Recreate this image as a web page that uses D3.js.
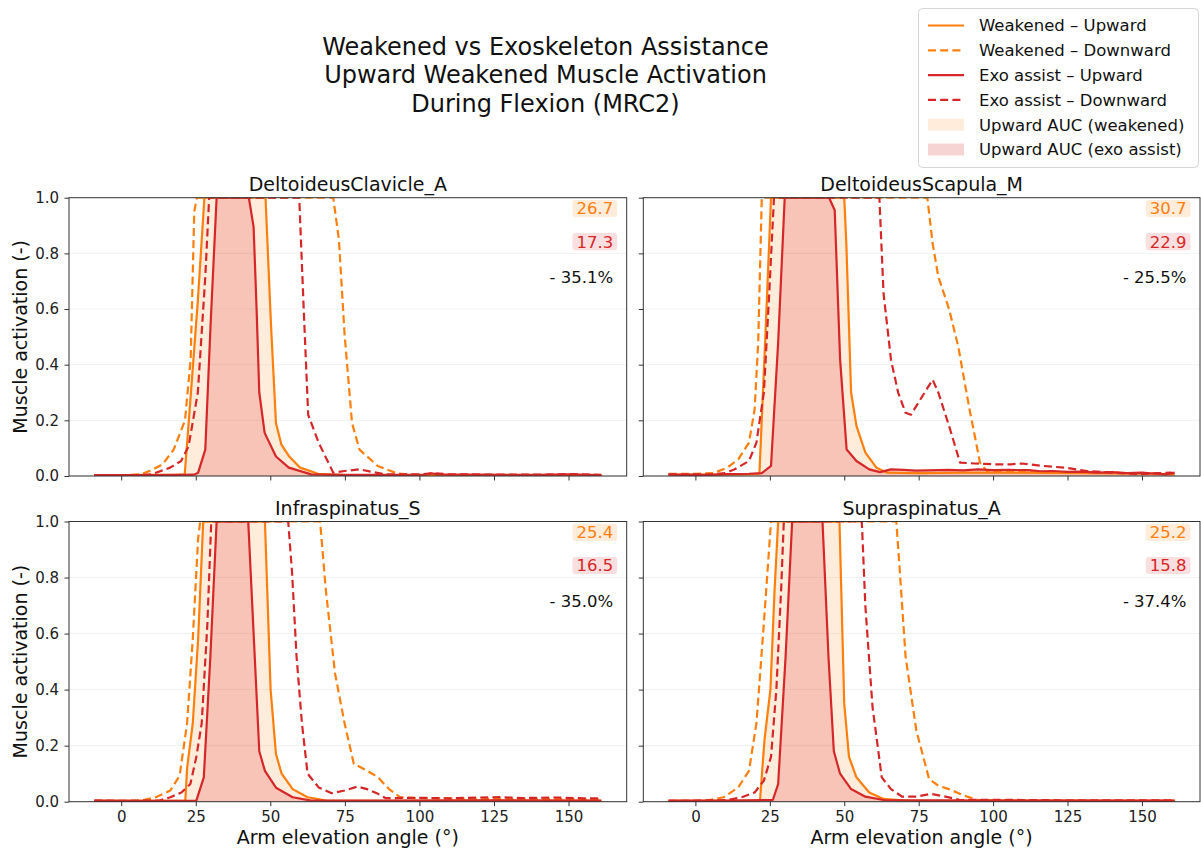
<!DOCTYPE html>
<html>
<head>
<meta charset="utf-8">
<script src="https://cdn.jsdelivr.net/npm/d3@7/dist/d3.min.js"></script>
<style>
  html, body { margin: 0; padding: 0; background: #fff; }
  svg { display: block; font-family: "DejaVu Sans", sans-serif; }
</style>
</head>
<body>
<svg id="chart" width="1201" height="850"></svg>
<script>
// ---- Data: activation vs. arm elevation angle, per muscle ----
const muscles = ["DeltoideusClavicle_A", "DeltoideusScapula_M", "Infraspinatus_S", "Supraspinatus_A"];
const aucWeakened = [26.7, 30.7, 25.4, 25.2];
const aucExo = [17.3, 22.9, 16.5, 15.8];
const aucChange = [-35.1, -25.5, -35.0, -37.4];
const xTicks = [0, 25, 50, 75, 100, 125, 150];
const yTicks = [0.0, 0.2, 0.4, 0.6, 0.8, 1.0];
const titleLines = ["Weakened vs Exoskeleton Assistance", "Upward Weakened Muscle Activation", "During Flexion (MRC2)"];
const legendLabels = ["Weakened – Upward", "Weakened – Downward", "Exo assist – Upward", "Exo assist – Downward",
                      "Upward AUC (weakened)", "Upward AUC (exo assist)"];

// DeltoideusClavicle_A
const dcWeakUp = [[-9,0.003],[0,0.003],[10,0.004],[18,0.004],[21.3,0.006],[22.9,0.23],[25.7,0.63],[27.9,1],[48.4,1],[50.2,0.55],[51.9,0.19],[53.7,0.113],[56.2,0.072],[60,0.03],[66,0.008],[75,0.003],[100,0.003],[130,0.003],[161,0.002]];
const dcWeakDown = [[-9,0.002],[0,0.002],[6.5,0.006],[10,0.02],[13.9,0.042],[17.6,0.095],[21.4,0.2],[23.3,0.42],[24.5,0.95],[25.4,1],[71.1,1],[73,0.85],[74.9,0.51],[77.4,0.19],[79.9,0.095],[86,0.036],[92.3,0.01],[98.5,0.003],[120,0.003],[161,0.002]];
const dcExoUp = [[-9,0.003],[10,0.003],[20,0.004],[24.5,0.005],[25.8,0.012],[28.2,0.095],[30,0.55],[32,1],[42.8,1],[44.4,0.895],[45.4,0.6],[46.3,0.3],[48.1,0.155],[51.9,0.07],[56.2,0.03],[63.7,0.006],[75,0.004],[90,0.004],[102,0.005],[104,0.01],[106,0.006],[120,0.005],[140,0.004],[150,0.006],[161,0.003]];
const dcExoDown = [[-9,0.002],[5,0.002],[10.2,0.006],[16.4,0.03],[20.1,0.054],[22.6,0.107],[25.7,0.3],[28.2,0.716],[29.5,1],[59.7,1],[61.2,0.6],[62.7,0.22],[66.2,0.12],[71.1,0.012],[74.9,0.018],[79.9,0.024],[83.6,0.016],[88.6,0.006],[100,0.006],[104.7,0.01],[110,0.006],[125,0.005],[140,0.005],[152,0.007],[161,0.004]];

// DeltoideusScapula_M
const dsWeakUp = [[-9,0.005],[5,0.005],[15,0.006],[21.5,0.008],[23.5,0.5],[25.4,1],[50,1],[50.7,0.835],[52.3,0.3],[54.1,0.18],[57.1,0.084],[60.8,0.03],[64.5,0.012],[75,0.01],[90,0.012],[110,0.012],[130,0.01],[150,0.008],[161,0.006]];
const dsWeakDown = [[-9,0.008],[0,0.008],[5.9,0.01],[10.7,0.03],[14.4,0.06],[18,0.12],[19.9,0.24],[21.1,0.48],[22.3,1],[77.9,1],[79.7,0.835],[81.6,0.716],[85.2,0.6],[88.3,0.465],[91.9,0.25],[95.6,0.048],[98,0.016],[110,0.014],[130,0.012],[150,0.01],[161,0.008]];
const dsExoUp = [[-9,0.006],[-5,0.004],[0,0.005],[4,0.003],[10,0.007],[18,0.008],[22.3,0.01],[25.4,0.036],[27.8,0.48],[30,1],[44.9,1],[46.8,0.955],[48.6,0.42],[50.8,0.095],[54.1,0.054],[58.4,0.024],[62,0.014],[65.7,0.024],[70,0.022],[74,0.019],[78,0.02],[85,0.022],[90,0.02],[95,0.024],[100,0.021],[105,0.022],[112,0.021],[116,0.017],[120,0.018],[125,0.015],[130,0.016],[135,0.012],[140,0.014],[145,0.01],[150,0.012],[155,0.008],[158,0.006],[161,0.012]];
const dsExoDown = [[-9,0.006],[5,0.006],[10,0.01],[13.2,0.024],[18,0.054],[20.5,0.12],[23,0.3],[24.8,0.656],[26.4,1],[61.8,1],[63.2,0.656],[65.7,0.418],[68.1,0.3],[70.6,0.227],[72.4,0.22],[75.5,0.274],[79.7,0.346],[81.6,0.3],[85.2,0.18],[88.9,0.048],[93.8,0.045],[100,0.042],[106,0.042],[109.5,0.045],[117,0.036],[124,0.03],[131.6,0.018],[140,0.012],[148.7,0.006],[155,0.01],[159.7,0.012],[161,0.008]];

// Infraspinatus_S
const isWeakUp = [[-9,0.003],[10,0.003],[21.5,0.004],[22.1,0.12],[24,0.28],[25.8,0.58],[27.5,1],[48.2,1],[50.1,0.4],[51.9,0.17],[53.8,0.1],[57.5,0.045],[62.5,0.016],[68.7,0.004],[90,0.003],[120,0.004],[161,0.003]];
const isWeakDown = [[-9,0.002],[0,0.002],[6.6,0.004],[11.6,0.016],[16.5,0.04],[19.6,0.093],[22.1,0.28],[24,0.58],[25.8,0.94],[26.5,1],[66.7,1],[68.6,0.757],[71.7,0.458],[74.9,0.28],[78,0.135],[82.4,0.111],[86.1,0.087],[89.8,0.045],[93.5,0.016],[98.5,0.013],[120,0.01],[140,0.01],[161,0.008]];
const isExoUp = [[-9,0.004],[10,0.003],[25.2,0.004],[27.7,0.087],[29.9,0.518],[32,1],[42.6,1],[44.5,0.58],[46.3,0.18],[48.2,0.11],[51.9,0.05],[57.5,0.016],[63.7,0.004],[90,0.004],[120,0.005],[161,0.004]];
const isExoDown = [[-9,0.004],[0,0.003],[12.8,0.004],[16.5,0.016],[20.2,0.033],[23.2,0.063],[25.2,0.16],[27,0.28],[28.9,0.634],[30.2,1],[56,1],[57.3,0.817],[58.8,0.518],[60.6,0.28],[62.5,0.1],[66.2,0.051],[70.6,0.03],[74.9,0.04],[79.3,0.054],[82.4,0.045],[86.1,0.028],[88.6,0.013],[91,0.013],[100,0.014],[110,0.012],[120,0.015],[127,0.016],[135,0.013],[145,0.015],[155,0.012],[161,0.012]];

// Supraspinatus_A
const saWeakUp = [[-9,0.003],[10,0.003],[21.7,0.004],[23.2,0.22],[25.2,0.4],[26.6,0.757],[27.8,1],[48.4,1],[50,0.35],[51.6,0.16],[54.1,0.087],[58.4,0.033],[63.2,0.01],[70.6,0.004],[100,0.003],[161,0.003]];
const saWeakDown = [[-9,0.002],[0,0.003],[4.6,0.006],[9.5,0.016],[14.4,0.051],[18,0.11],[20.5,0.28],[23,0.637],[25.4,1],[67.5,1],[68.7,0.817],[70.6,0.518],[74.2,0.255],[78.5,0.081],[81.6,0.057],[85.2,0.045],[90.1,0.022],[95,0.006],[110,0.004],[161,0.003]];
const saExoUp = [[-9,0.004],[10,0.004],[26,0.006],[27.8,0.063],[30.3,0.518],[32.5,1],[42.7,1],[44.7,0.518],[46.5,0.18],[48.6,0.1],[52.3,0.045],[57.1,0.018],[63.2,0.006],[100,0.004],[161,0.004]];
const saExoDown = [[-9,0.003],[0,0.003],[10.7,0.006],[15.6,0.016],[19.9,0.033],[23,0.075],[25.4,0.16],[27.2,0.4],[28.8,0.757],[29.7,1],[55.9,1],[57.1,0.697],[59.5,0.338],[62.6,0.087],[65.7,0.045],[69.4,0.018],[74.2,0.018],[79.1,0.028],[84,0.018],[88.9,0.006],[100,0.007],[110,0.006],[125,0.005],[161,0.005]];

const panelSeries = [
  { weakUp: dcWeakUp, weakDown: dcWeakDown, exoUp: dcExoUp, exoDown: dcExoDown },
  { weakUp: dsWeakUp, weakDown: dsWeakDown, exoUp: dsExoUp, exoDown: dsExoDown },
  { weakUp: isWeakUp, weakDown: isWeakDown, exoUp: isExoUp, exoDown: isExoDown },
  { weakUp: saWeakUp, weakDown: saWeakDown, exoUp: saExoUp, exoDown: saExoDown }
];

// ---- Styling ----
const ORANGE = "#ff7f0e";
const RED = "#d62728";
const FONT = "'DejaVu Sans', sans-serif";
const DASH = "8,4.2";

const svg = d3.select("#chart");

// Panel geometry (2 x 2 grid)
const colX = [[69, 626.7], [643.3, 1200]];
const rowY = [[197.7, 476], [521.5, 801.7]];

// Figure title
svg.append("g").selectAll("text").data(titleLines).join("text")
  .attr("x", 545.5).attr("y", (d, i) => 55 + i * 28.4)
  .attr("text-anchor", "middle")
  .style("font-family", FONT).style("font-size", "24px").attr("fill", "#111")
  .text(d => d);

muscles.forEach((name, i) => {
  const col = i % 2, row = Math.floor(i / 2);
  const [x0, x1] = colX[col];
  const [y0, y1] = rowY[row];
  const x = d3.scaleLinear().domain([-17.5, 169.5]).range([x0, x1]);
  const y = d3.scaleLinear().domain([0, 1]).range([y1, y0]);
  const g = svg.append("g");
  const clipId = "clip" + i;
  g.append("clipPath").attr("id", clipId)
    .append("rect").attr("x", x0).attr("y", y0).attr("width", x1 - x0).attr("height", y1 - y0);

  // horizontal grid
  g.append("g").selectAll("line").data(yTicks).join("line")
    .attr("x1", x0).attr("x2", x1).attr("y1", d => y(d)).attr("y2", d => y(d))
    .attr("stroke", "#b0b0b0").attr("stroke-opacity", 0.22).attr("stroke-width", 0.8);

  const s = panelSeries[i];
  const plot = g.append("g").attr("clip-path", `url(#${clipId})`);
  const area = d3.area().x(d => x(d[0])).y0(y(0)).y1(d => y(d[1]));
  const line = d3.line().x(d => x(d[0])).y(d => y(d[1]));

  plot.append("path").datum(s.weakUp).attr("d", area).attr("fill", ORANGE).attr("fill-opacity", 0.15);
  plot.append("path").datum(s.exoUp).attr("d", area).attr("fill", RED).attr("fill-opacity", 0.2);

  const lineStyles = [
    { data: s.weakUp, color: ORANGE, dash: null },
    { data: s.weakDown, color: ORANGE, dash: DASH },
    { data: s.exoUp, color: RED, dash: null },
    { data: s.exoDown, color: RED, dash: DASH }
  ];
  lineStyles.forEach(ls => {
    plot.append("path").datum(ls.data).attr("d", line)
      .attr("fill", "none").attr("stroke", ls.color).attr("stroke-width", 2.2)
      .attr("stroke-linejoin", "round")
      .attr("stroke-dasharray", ls.dash);
  });

  // axes
  const xAxis = d3.axisBottom(x).tickValues(xTicks).tickSize(4.5).tickPadding(5.5)
    .tickFormat(row === 1 ? d3.format("d") : () => "");
  const yAxis = d3.axisLeft(y).tickValues(yTicks).tickSize(4.5).tickPadding(5.5)
    .tickFormat(col === 0 ? d3.format(".1f") : () => "");
  const gx = g.append("g").attr("transform", `translate(0,${y1})`).call(xAxis);
  const gy = g.append("g").attr("transform", `translate(${x0},0)`).call(yAxis);
  [gx, gy].forEach(a => {
    a.select(".domain").remove();
    a.selectAll("line").attr("stroke", "#333").attr("stroke-width", 1);
    a.selectAll("text").style("font-family", FONT).style("font-size", "15px").attr("fill", "#222");
  });

  // frame
  g.append("rect").attr("x", x0).attr("y", y0).attr("width", x1 - x0).attr("height", y1 - y0)
    .attr("fill", "none").attr("stroke", "#333").attr("stroke-width", 1);

  // panel title
  g.append("text").attr("x", (x0 + x1) / 2).attr("y", y0 - 6.5)
    .attr("text-anchor", "middle").style("font-family", FONT).style("font-size", "19px")
    .attr("fill", "#111").text(name);

  // AUC annotations
  const tx = x1 - 13.5;
  const labels = [
    { text: aucWeakened[i].toFixed(1), color: ORANGE, bg: ORANGE, cy: y0 + 10.8 },
    { text: aucExo[i].toFixed(1), color: RED, bg: RED, cy: y0 + 44 },
    { text: "- " + Math.abs(aucChange[i]).toFixed(1) + "%", color: "#111", bg: null, cy: y0 + 79.5 }
  ];
  labels.forEach(l => {
    const t = g.append("text").attr("x", tx).attr("y", l.cy).attr("dy", "0.36em")
      .attr("text-anchor", "end").style("font-family", FONT).style("font-size", "16.5px")
      .attr("fill", l.color).text(l.text);
    if (l.bg) {
      const bb = t.node().getBBox();
      g.insert("rect", () => t.node())
        .attr("x", bb.x - 4).attr("y", l.cy - 8.6).attr("width", bb.width + 8).attr("height", 17.2)
        .attr("rx", 3).attr("fill", l.bg).attr("fill-opacity", 0.15);
    }
  });

  // axis labels
  if (row === 1) {
    g.append("text").attr("x", (x0 + x1) / 2).attr("y", 844)
      .attr("text-anchor", "middle").style("font-family", FONT).style("font-size", "19px")
      .attr("fill", "#111").text("Arm elevation angle (°)");
  }
  if (col === 0) {
    g.append("text").attr("transform", `translate(26.5,${(y0 + y1) / 2}) rotate(-90)`)
      .attr("text-anchor", "middle").style("font-family", FONT).style("font-size", "19px")
      .attr("fill", "#111").text("Muscle activation (-)");
  }
});

// Legend
const legend = svg.append("g");
legend.append("rect").attr("x", 918.5).attr("y", 8.5).attr("width", 280).attr("height", 159)
  .attr("rx", 4).attr("fill", "#fff").attr("fill-opacity", 0.85)
  .attr("stroke", "#d5d5d5").attr("stroke-width", 1);
const legendItems = [
  { type: "line", color: ORANGE, dash: null },
  { type: "line", color: ORANGE, dash: DASH },
  { type: "line", color: RED, dash: null },
  { type: "line", color: RED, dash: DASH },
  { type: "patch", color: ORANGE, opacity: 0.15 },
  { type: "patch", color: RED, opacity: 0.2 }
];
legendItems.forEach((it, k) => {
  const cy = 25.5 + k * 24.8;
  if (it.type === "line") {
    legend.append("line").attr("x1", 928).attr("x2", 964).attr("y1", cy).attr("y2", cy)
      .attr("stroke", it.color).attr("stroke-width", 2.2).attr("stroke-dasharray", it.dash);
  } else {
    legend.append("rect").attr("x", 928).attr("y", cy - 6).attr("width", 36).attr("height", 12)
      .attr("fill", it.color).attr("fill-opacity", it.opacity);
  }
  legend.append("text").attr("x", 979).attr("y", cy).attr("dy", "0.36em")
    .style("font-family", FONT).style("font-size", "16.5px").attr("fill", "#111")
    .text(legendLabels[k]);
});
</script>
</body>
</html>
